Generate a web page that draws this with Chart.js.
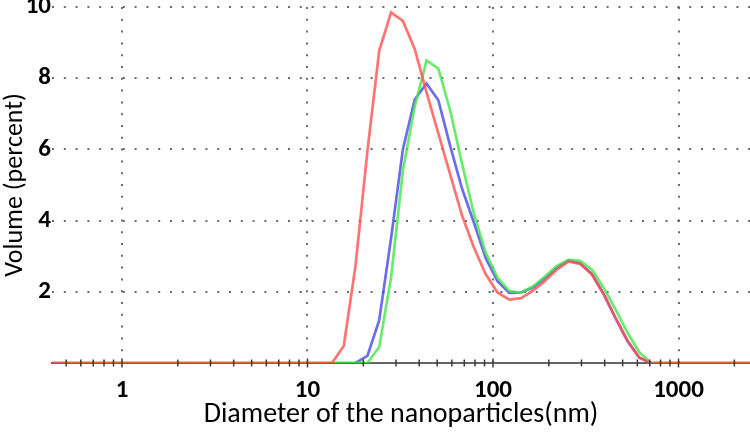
<!DOCTYPE html>
<html>
<head>
<meta charset="utf-8">
<script src="https://cdn.jsdelivr.net/npm/chart.js@4"></script>
<style>
html,body{margin:0;padding:0;background:#fff;}
#wrap{width:750px;height:432px;}
</style>
</head>
<body>
<div id="wrap"><canvas id="c" width="750" height="432"></canvas></div>
<script>
// Size classes (nm), log-spaced bins
const sizes = [0.4, 0.4632, 0.5365, 0.6213, 0.7195, 0.8332, 0.9649, 1.117, 1.294, 1.499,
  1.736, 2.01, 2.328, 2.696, 3.122, 3.615, 4.187, 4.849, 5.615, 6.503,
  7.531, 8.721, 10.1, 11.7, 13.54, 15.69, 18.17, 21.04, 24.36, 28.21,
  32.67, 37.84, 43.82, 50.75, 58.77, 68.06, 78.82, 91.28, 105.7, 122.4,
  141.8, 164.2, 190.1, 220.2, 255.0, 295.3, 342.0, 396.1, 458.7, 531.2,
  615.1, 712.4, 825.0, 955.4, 1106, 1281, 1484, 1718, 1990, 2305, 2669];

// Volume (%) — red sample
const redVolume = [0,0,0,0,0,0,0,0,0,0,
  0,0,0,0,0,0,0,0,0,0,
  0,0,0,0,0,0.48,2.75,5.95,8.77,9.85,
  9.61,8.82,7.6,6.45,5.3,4.15,3.25,2.5,1.98,1.78,
  1.82,2.03,2.3,2.62,2.85,2.78,2.48,1.92,1.25,0.62,
  0.15,0,0,0,0,0,0,0,0,0,0];

// Volume (%) — green sample
const greenVolume = [0,0,0,0,0,0,0,0,0,0,
  0,0,0,0,0,0,0,0,0,0,
  0,0,0,0,0,0,0,0,0.45,2.4,
  5.4,7.2,8.5,8.27,7.1,5.6,4.2,3.1,2.4,2.02,
  1.98,2.15,2.42,2.72,2.9,2.87,2.62,2.1,1.5,0.85,
  0.3,0,0,0,0,0,0,0,0,0,0];

// Volume (%) — blue sample
const blueVolume = [0,0,0,0,0,0,0,0,0,0,
  0,0,0,0,0,0,0,0,0,0,
  0,0,0,0,0,0,0,0.2,1.2,3.5,
  6.0,7.4,7.85,7.38,6.1,4.9,3.95,2.95,2.3,1.97,
  1.98,2.12,2.38,2.67,2.88,2.8,2.5,1.93,1.25,0.62,
  0.15,0,0,0,0,0,0,0,0,0,0];

const xTickLabels = [1, 10, 100, 1000];
const yTickLabels = [2, 4, 6, 8, 10];

const FONT = "Carlito, 'Open Sans', sans-serif";

function toPoints(vals) { return sizes.map((s, i) => ({x: s, y: vals[i]})); }
function isNice(v) {
  const e = Math.floor(Math.log10(v) + 1e-9);
  const m = v / Math.pow(10, e);
  return Math.abs(m - Math.round(m)) < 1e-6;
}
function isDecade(v) {
  const l = Math.log10(v);
  return Math.abs(l - Math.round(l)) < 1e-6;
}

const tickMarks = {
  id: 'tickMarks',
  afterDatasetsDraw(chart) {
    const s = chart.scales.x, ctx = chart.ctx, y = s.top;
    ctx.save();
    ctx.strokeStyle = '#3a3a3a';
    ctx.lineWidth = 1.5;
    s.ticks.forEach(t => {
      const x = s.getPixelForValue(t.value);
      const h = isDecade(t.value) ? 4.5 : 3.5;
      ctx.beginPath();
      ctx.moveTo(x, y - h);
      ctx.lineTo(x, y + h);
      ctx.stroke();
    });
    ctx.restore();
  }
};

new Chart(document.getElementById('c'), {
  type: 'line',
  data: {
    datasets: [
      {data: toPoints(redVolume), borderColor: 'rgba(255,80,80,0.8)'},
      {data: toPoints(greenVolume), borderColor: 'rgba(70,230,70,0.8)'},
      {data: toPoints(blueVolume), borderColor: 'rgba(60,60,230,0.75)'}
    ]
  },
  options: {
    responsive: false,
    animation: false,
    devicePixelRatio: 1,
    layout: {padding: {top: 7, right: 0, left: 0, bottom: 0}},
    plugins: {legend: {display: false}, tooltip: {enabled: false}},
    elements: {point: {radius: 0}, line: {borderWidth: 2.7, tension: 0}},
    scales: {
      x: {
        type: 'logarithmic',
        min: 0.4195,
        max: 2429,
        afterBuildTicks: s => { s.ticks = s.ticks.filter(t => isNice(t.value)); },
        afterFit: s => { s.height = 69; s.paddingLeft = 0; s.paddingRight = 0; },
        ticks: {
          autoSkip: false, maxRotation: 0, minRotation: 0, padding: 13,
          color: '#000',
          font: {family: FONT, size: 25, weight: 'bold'},
          callback: v => xTickLabels.includes(Math.round(v)) && isDecade(v) ? String(Math.round(v)) : ''
        },
        grid: {
          drawTicks: false,
          lineWidth: 2,
          color: ctx => (ctx.tick && isDecade(ctx.tick.value)) ? 'rgba(70,70,70,0.8)' : 'transparent'
        },
        border: {display: true, color: '#666', width: 2, dash: [2, 9.8]},
        title: {
          display: true, text: 'Diameter of the nanoparticles(nm)', color: '#000',
          font: {family: FONT, size: 28}, padding: {top: 0, bottom: 0}
        }
      },
      y: {
        min: 0, max: 10,
        afterFit: s => { s.width = 52; s.paddingTop = 0; s.paddingBottom = 0; },
        ticks: {
          stepSize: 2, padding: 1, color: '#000',
          font: {family: FONT, size: 25, weight: 'bold'},
          callback: v => yTickLabels.includes(v) ? String(v) : ''
        },
        grid: {
          drawTicks: false,
          lineWidth: 2,
          color: ctx => (ctx.tick && ctx.tick.value !== 0) ? 'rgba(70,70,70,0.8)' : 'transparent'
        },
        border: {display: false, dash: [2, 9.8]},
        title: {
          display: true, text: 'Volume (percent)', color: '#000',
          font: {family: FONT, size: 26}, padding: {top: 0, bottom: 0}
        }
      }
    }
  },
  plugins: [tickMarks]
});
</script>
</body>
</html>
